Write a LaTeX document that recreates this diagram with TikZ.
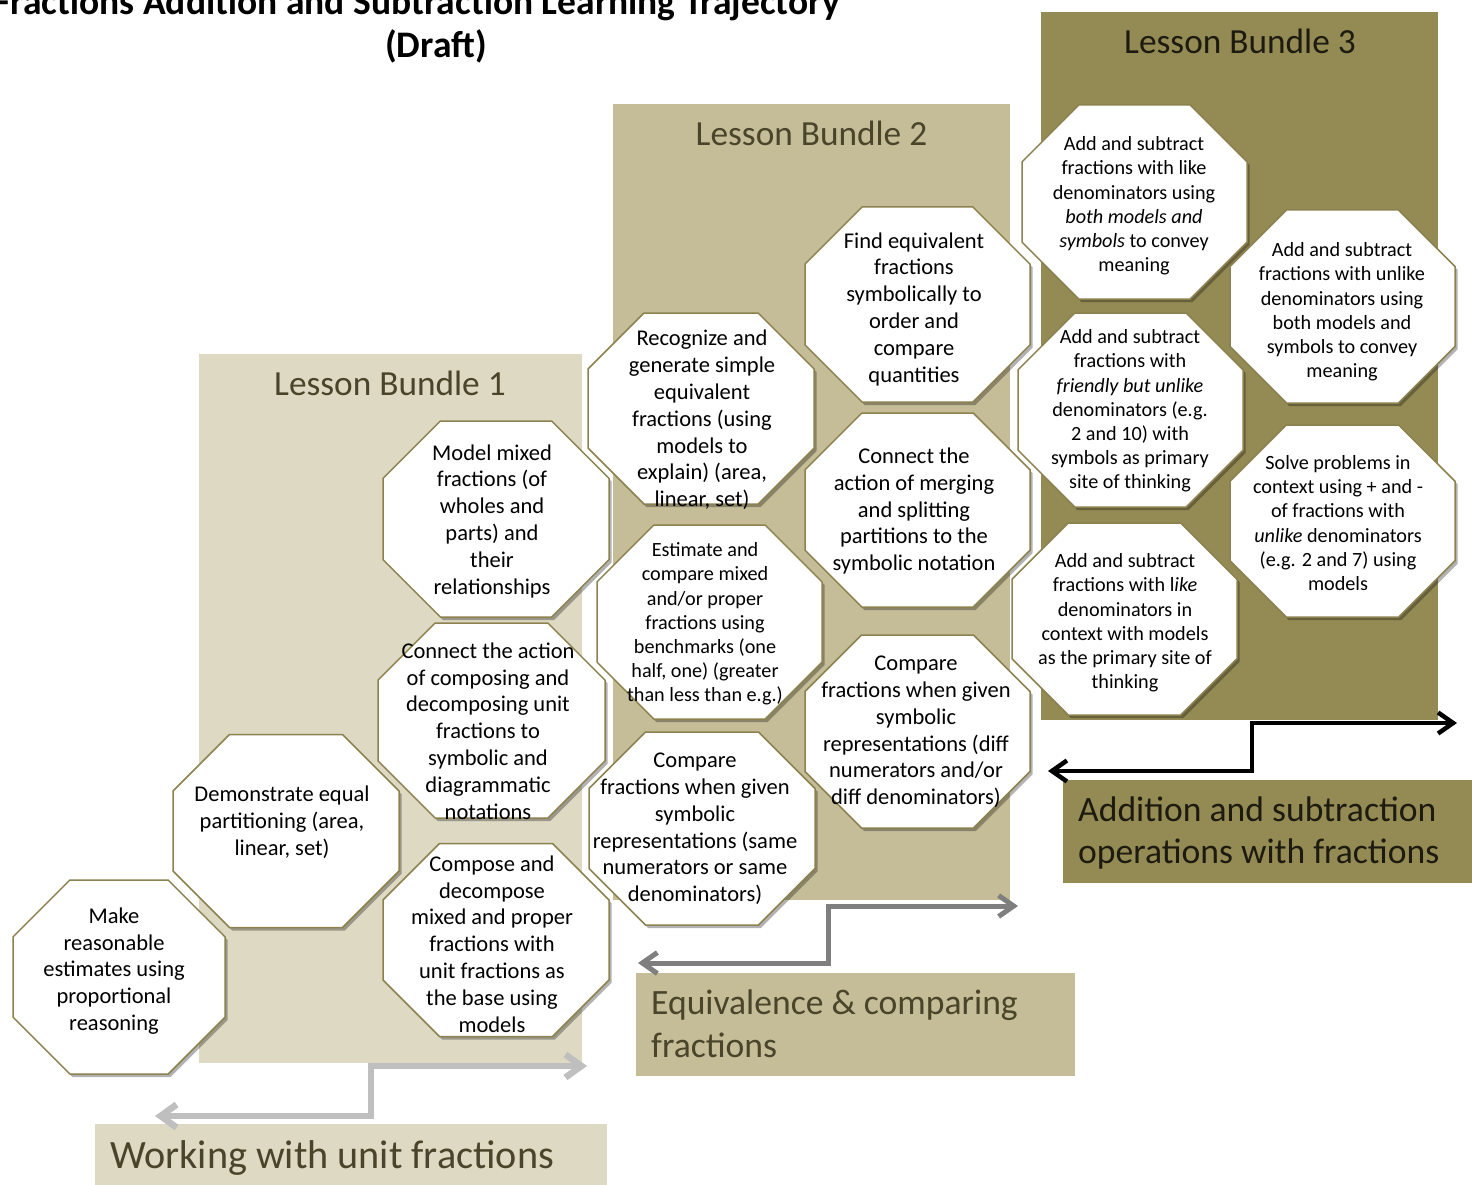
\documentclass[tikz,border=0pt]{standalone}
\usepackage{fontspec}
\setmainfont{Carlito}
\usetikzlibrary{arrows.meta,shadows}
\definecolor{bOne}{HTML}{DDD9C3}
\definecolor{bTwo}{HTML}{C4BD97}
\definecolor{bThree}{HTML}{948A54}
\definecolor{olivetxt}{HTML}{4A452A}
\definecolor{darktxt}{HTML}{1D1B10}
\definecolor{octline}{HTML}{8C8250}
\definecolor{arrLight}{HTML}{BFBFBF}
\definecolor{arrMid}{HTML}{7F7F7F}
\tikzset{
  panel/.style={rectangle, draw=none, inner sep=0pt, outer sep=0pt},
  octa/.style={fill=white, draw=octline, line width=1.5pt, line join=miter,
    drop shadow={shadow xshift=2.5pt, shadow yshift=-3pt, opacity=0.3, fill=black}},
  octL/.style={align=center, inner sep=0pt, font=\fontsize{22.5}{26.8}\selectfont},
  octS/.style={align=center, inner sep=0pt, font=\fontsize{20.2}{24.2}\selectfont},
  hdr/.style={anchor=base, inner sep=0pt, font=\fontsize{35.3}{42}\selectfont},
  lblfont/.style={inner sep=0pt, font=\fontsize{35.6}{42.5}\selectfont},
  titlefont/.style={inner sep=0pt, font=\fontsize{37.5}{43}\selectfont\bfseries},
  barrow/.style={<->, line join=miter},
}
\newcommand{\octbox}[6]{%
  \pgfmathsetmacro{\octcut}{0.2929*min(#3,#4)}%
  \pgfmathsetmacro{\octhw}{#3/2}%
  \pgfmathsetmacro{\octhh}{#4/2}%
  \path[octa] ({#1-\octhw+\octcut},{#2-\octhh}) -- ({#1+\octhw-\octcut},{#2-\octhh})
    -- ({#1+\octhw},{#2-\octhh+\octcut}) -- ({#1+\octhw},{#2+\octhh-\octcut})
    -- ({#1+\octhw-\octcut},{#2+\octhh}) -- ({#1-\octhw+\octcut},{#2+\octhh})
    -- ({#1-\octhw},{#2+\octhh-\octcut}) -- ({#1-\octhw},{#2-\octhh+\octcut}) -- cycle;
  \node[#5] {#6};
}
\begin{document}
\begin{tikzpicture}[x=1pt,y=-1pt]
\useasboundingbox (0,0) rectangle (1472,1185);
\clip (0,0) rectangle (1472,1185);

% title
\node[titlefont, anchor=base east] (T1) at (840,15) {Fractions Addition and Subtraction Learning Trajectory};
\node[titlefont, anchor=base] (T2) at (436,58) {(Draft)};

% bundle panels
\node[panel, fill=bOne, minimum width=383, minimum height=709, anchor=north west] (B1) at (199,354) {};
\node[panel, fill=bTwo, minimum width=397, minimum height=796, anchor=north west] (B2) at (613,104) {};
\node[panel, fill=bThree, minimum width=397, minimum height=708, anchor=north west] (B3) at (1041,12) {};

\node[hdr, text=olivetxt] (H1) at (390,395) {Lesson Bundle 1};
\node[hdr, text=olivetxt] (H2) at (811.5,146) {Lesson Bundle 2};
\node[hdr, text=darktxt] (H3) at (1240,54) {Lesson Bundle 3};

% strand labels
\node[panel, fill=bOne, minimum width=512, minimum height=75, anchor=north west] (L1box) at (95,1124) {};
\node[panel, fill=bTwo, minimum width=439, minimum height=103, anchor=north west] (L2box) at (636,973) {};
\node[panel, fill=bThree, minimum width=420, minimum height=103, anchor=north west] (L3box) at (1063,780) {};

\node[inner sep=0pt, font=\fontsize{40.2}{43}\selectfont, text=olivetxt, anchor=base west] (L1) at (110,1168) {Working with unit fractions};
\node[lblfont, text=olivetxt, align=left, anchor=west] (L2) at (651,1024) {Equivalence \& comparing\\fractions};
\node[lblfont, text=darktxt, align=left, anchor=west] (L3) at (1078,833) {Addition and subtraction\\operations with fractions};

% arrows
\coordinate (a1L) at (155,1116);
\coordinate (a1K) at (371,1066);
\coordinate (a1R) at (587,1066);
\draw[barrow, draw=arrLight, line width=6.5pt, >={Straight Barb[length=16pt,width=23pt]}] (a1L) -| (a1K) -- (a1R);
\coordinate (a2L) at (638,963);
\coordinate (a2K) at (828,906);
\coordinate (a2R) at (1018,906);
\draw[barrow, draw=arrMid, line width=5pt, >={Straight Barb[length=15pt,width=21pt]}] (a2L) -| (a2K) -- (a2R);
\coordinate (a3L) at (1048,771);
\coordinate (a3K) at (1252,723);
\coordinate (a3R) at (1457,723);
\draw[barrow, draw=black, line width=4.5pt, >={Straight Barb[length=15pt,width=21pt]}] (a3L) -| (a3K) -- (a3R);

% bundle 1
\octbox{496}{519}{226}{196}{octL,name=o1,at={(492,521)}}{Model mixed\\fractions (of\\wholes and\\parts) and\\their\\relationships}
\octbox{491.5}{720.5}{227}{195}{octL,name=o2,at={(488,731)}}{Connect the action\\of composing and\\decomposing unit\\fractions to\\symbolic and\\diagrammatic\\notations}
\octbox{286}{831}{226}{193}{octL,name=o3,at={(282,822)}}{Demonstrate equal\\partitioning (area,\\linear, set)}
\octbox{496}{940}{226}{193}{octL,name=o4,at={(492,944)}}{Compose and\\decompose\\mixed and proper\\fractions with\\unit fractions as\\the base using\\models}
\octbox{119}{977}{212}{194}{octL,name=o5,at={(114,971)}}{Make\\reasonable\\estimates using\\proportional\\reasoning}

% bundle 2
\octbox{701}{408.5}{226}{191}{octL,name=o6,at={(702,420)}}{Recognize and\\generate simple\\equivalent\\fractions (using\\models to\\explain) (area,\\linear, set)}
\octbox{917.5}{304.5}{225}{195}{octL,name=o7,at={(914,309)}}{Find equivalent\\fractions\\symbolically to\\order and\\compare\\quantities}
\octbox{917.5}{510}{225}{194}{octL,name=o8,at={(914,511)}}{Connect the\\action of merging\\and splitting\\partitions to the\\symbolic notation}
\octbox{709.5}{622}{225}{194}{octS,name=o9,at={(705,624)}}{Estimate and\\compare mixed\\and/or proper\\fractions using\\benchmarks (one\\half, one) (greater\\than less than e.g.)}
\octbox{917.5}{731.5}{225}{193}{octL,name=o10,at={(916,732)}}{Compare\\fractions when given\\symbolic\\representations (diff\\numerators and/or\\diff denominators)}
\octbox{702}{828.5}{226}{193}{octL,name=o11,at={(695,829)}}{Compare\\fractions when given\\symbolic\\representations (same\\numerators or same\\denominators)}

% bundle 3
\octbox{1134.5}{202}{225}{194}{octS,name=o12,at={(1134,206)}}{Add and subtract\\fractions with like\\denominators using\\\textit{both models and}\\\textit{symbols} to convey\\meaning}
\octbox{1342.5}{306.5}{225}{193}{octS,name=o13,at={(1342,312)}}{Add and subtract\\fractions with unlike\\denominators using\\both models and\\symbols to convey\\meaning}
\octbox{1130.5}{410}{225}{194}{octS,name=o14,at={(1130,411)}}{Add and subtract\\fractions with\\\textit{friendly but unlike}\\denominators (e.g.\\2 and 10) with\\symbols as primary\\site of thinking}
\octbox{1342.5}{521}{225}{192}{octS,name=o15,at={(1338,523)}}{Solve problems in\\context using + and -\\of fractions with\\\textit{unlike} denominators\\(e.g. 2 and 7) using\\models}
\octbox{1124.5}{619}{225}{192}{octS,name=o16,at={(1125,623)}}{Add and subtract\\fractions with l\textit{ike}\\denominators in\\context with models\\as the primary site of\\thinking}
\end{tikzpicture}
\end{document}
